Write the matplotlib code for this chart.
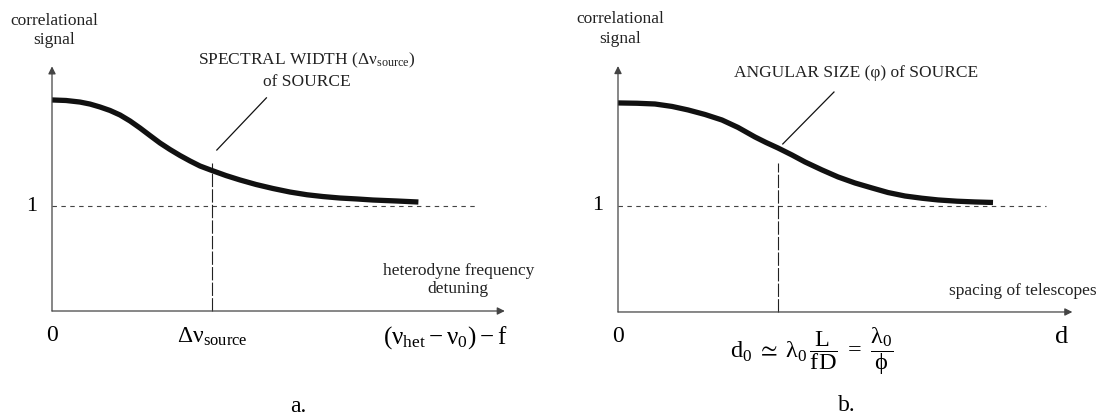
import matplotlib
matplotlib.use("Agg")
from matplotlib import pyplot as plt

plt.rcParams['font.family'] = ['Liberation Serif', 'DejaVu Serif']
plt.rcParams['mathtext.fontset'] = 'custom'
plt.rcParams['mathtext.rm'] = 'Liberation Serif'
plt.rcParams['mathtext.it'] = 'Liberation Serif'
plt.rcParams['mathtext.bf'] = 'Liberation Serif:bold'
plt.rcParams['mathtext.fallback'] = 'stix'

# a. correlational signal vs heterodyne detuning (detuning in units of the source width)
detuning = [0.0, 0.0875, 0.175, 0.2375, 0.30, 0.3625, 0.425, 0.4875, 0.55,
            0.6125, 0.675, 0.7375, 0.80, 0.8625, 0.925, 1.0, 1.0875, 1.175,
            1.275, 1.38, 1.4875, 1.594, 1.694, 1.80, 1.906, 2.006, 2.15, 2.29]
signal_a = [2.010, 2.005, 1.990, 1.971, 1.943, 1.910, 1.867, 1.810, 1.743,
            1.671, 1.600, 1.538, 1.481, 1.429, 1.381, 1.338, 1.290, 1.248,
            1.205, 1.167, 1.133, 1.107, 1.090, 1.076, 1.067, 1.057, 1.048, 1.038]

# b. correlational signal vs telescope spacing (spacing in units of d0)
spacing = [0.0, 0.119, 0.231, 0.3375, 0.4375, 0.544, 0.65, 0.75, 0.856, 0.925,
           1.0, 1.0875, 1.169, 1.275, 1.375, 1.481, 1.5875, 1.6875, 1.794, 1.9,
           2.0, 2.119, 2.231, 2.344]
signal_b = [1.972, 1.969, 1.962, 1.939, 1.906, 1.863, 1.811, 1.741, 1.651, 1.599,
            1.547, 1.481, 1.415, 1.340, 1.274, 1.217, 1.170, 1.127, 1.094, 1.073,
            1.057, 1.045, 1.038, 1.033]

baseline = 1.0      # uncorrelated level
width_mark = 1.0    # delta nu source
d0_mark = 1.0       # d0

axis_col = '#444444'

fig = plt.figure(figsize=(11.05, 4.17), dpi=100)
ax1 = fig.add_axes([0, 0, 552 / 1105, 1])
ax2 = fig.add_axes([552 / 1105, 0, 553 / 1105, 1])
ax1.set_xlim(-0.325, 3.125)
ax1.set_ylim(-1.0095, 2.962)
ax2.set_xlim(-0.4125, 3.044)
ax2.set_ylim(-0.9906, 2.943)


def draw_frame(ax, x_end, y_end, dash_end, mark, mark_top):
    arrow = dict(arrowstyle='-|>', lw=0.9, color=axis_col, mutation_scale=11,
                 shrinkA=0, shrinkB=0)
    ax.annotate('', xy=(x_end, 0), xytext=(0, 0), arrowprops=arrow)
    ax.annotate('', xy=(0, y_end), xytext=(0, 0), arrowprops=arrow)
    ax.plot([0, dash_end], [baseline, baseline], color=axis_col, lw=0.8,
            linestyle=(0, (4, 4)))
    ax.plot([mark, mark], [0, mark_top], color='#222222', lw=0.8,
            linestyle=(0, (12, 2)))
    ax.axis('off')


draw_frame(ax1, 2.83, 2.33, 2.66, width_mark, 1.41)
draw_frame(ax2, 2.84, 2.32, 2.675, d0_mark, 1.405)

ax1.plot(detuning, signal_a, color='#111111', lw=3.8, solid_capstyle='butt',
         solid_joinstyle='round')
ax2.plot(spacing, signal_b, color='#111111', lw=3.8, solid_capstyle='butt',
         solid_joinstyle='round')

# leader lines to the annotations
ax1.plot([1.03, 1.34], [1.533, 2.03], color='#111111', lw=0.9)
ax2.plot([1.03, 1.35], [1.585, 2.075], color='#111111', lw=0.9)

small = 12.5
for ax in (ax1, ax2):
    ax.text(0.015, 2.67, 'correlational\nsignal', ha='center', va='center',
            fontsize=small, linespacing=1.3, color='#222222')
    ax.text(-0.13, baseline, '1', ha='center', va='center', fontsize=16)
    ax.text(0.0, -0.23, '0', ha='center', va='center', fontsize=17)

# panel a labels
ax1.text(1.59, 2.39, r'SPECTRAL WIDTH ($\Delta$ν$_{\mathrm{source}}$)',
         ha='center', va='center', fontsize=small, color='#222222')
ax1.text(1.59, 2.18, 'of SOURCE', ha='center', va='center', fontsize=small,
         color='#222222')
ax1.text(width_mark, -0.25, r'$\Delta$ν$_{\mathrm{source}}$', ha='center',
         va='center', fontsize=17)
ax1.text(2.46, -0.25, r'$(\nu_{\mathrm{het}} - \nu_{0}) - \mathrm{f}$',
         ha='center', va='center', fontsize=18)
ax1.text(2.54, 0.295, 'heterodyne frequency\ndetuning', ha='center',
         va='center', fontsize=small, linespacing=1.2, color='#222222')
ax1.text(1.54, -0.91, 'a.', ha='center', va='center', fontsize=17)

# panel b labels
ax2.text(1.49, 2.25, 'ANGULAR SIZE (φ) of SOURCE', ha='center', va='center',
         fontsize=small, color='#222222')
ax2.text(2.53, 0.2, 'spacing of telescopes', ha='center', va='center',
         fontsize=small, color='#222222')
ax2.text(2.775, -0.24, 'd', ha='center', va='center', fontsize=19)
ax2.text(1.21, -0.37,
         r'$\mathrm{d}_{0}\;\simeq\;\lambda_{0}\,\dfrac{\mathrm{L}}{\mathrm{fD}}'
         r'\;=\;\dfrac{\lambda_{0}}{\phi}$',
         ha='center', va='center', fontsize=17.5)
ax2.text(1.43, -0.88, 'b.', ha='center', va='center', fontsize=17)

fig.savefig('out.png', dpi=100)
